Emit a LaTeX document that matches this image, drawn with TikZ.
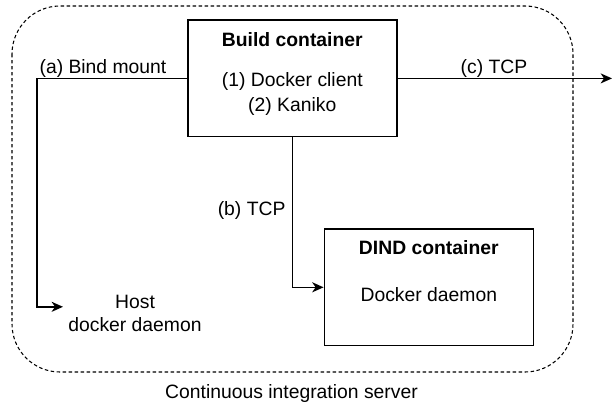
\documentclass[tikz,border=0pt]{standalone}
\usepackage{fontspec}
\setmainfont{Liberation Sans}
\usetikzlibrary{arrows.meta, positioning}
\tikzset{
    container/.style={rectangle, draw, line width=1.1pt, minimum width=156.75pt, minimum height=87.5pt, inner sep=0pt},
    frame/.style={draw, line width=0.8pt, dash pattern=on 2.6pt off 1.9pt, rounded corners=36pt},
    txt/.style={inner sep=0pt, anchor=base, font=\fontsize{14.5}{17.5}\selectfont},
    head/.style={txt, font=\fontsize{14.5}{17.5}\selectfont\bfseries},
    arrow/.style={line width=1.1pt, -{Stealth[length=8.5pt, width=7.5pt, inset=2.5pt]}}
}
\begin{document}
\begin{tikzpicture}[x=0.75pt, y=-0.75pt]
        \useasboundingbox (0,0) rectangle (613,404);

        % CI server frame
        \draw [frame] (12,6) rectangle (573,372);
        \node (ci) [txt] at (291.5,398.3) {Continuous integration server};

        % Build container
        \node (build) [container] at (292.3,78.4) {};
        \node (buildtitle) [head] at (292.3,46.6) {Build container};
        \node (client) [txt] at (292.3,86.4) {(1) Docker client};
        \node (kaniko) [txt] at (292.3,111.2) {(2) Kaniko};

        % DIND container
        \node (dind) [container] at (428.8,287.3) {};
        \node (dindtitle) [head] at (428.8,254.4) {DIND container};
        \node (daemon) [txt] at (428.8,301.2) {Docker daemon};

        % Host daemon
        \node (host) [txt, align=center] at (135,331.7) {Host\\docker daemon};
        \coordinate (hostin) at (63,306.8);
        \coordinate (out) at (612,78.4);

        % Connectors
        \draw [arrow] (build.west) -- ++(-150,0) |- (hostin);
        \draw [arrow] (build.south) |- (dind.west);
        \draw [arrow] (build.east) -- (out);

        \node (bind) [txt, anchor=base west] at (39.3,73.3) {(a) Bind mount};
        \node (tcpb) [txt, anchor=base east] at (285.7,215.6) {(b) TCP};
        \node (tcpc) [txt] at (494,73.3) {(c) TCP};
\end{tikzpicture}
\end{document}
